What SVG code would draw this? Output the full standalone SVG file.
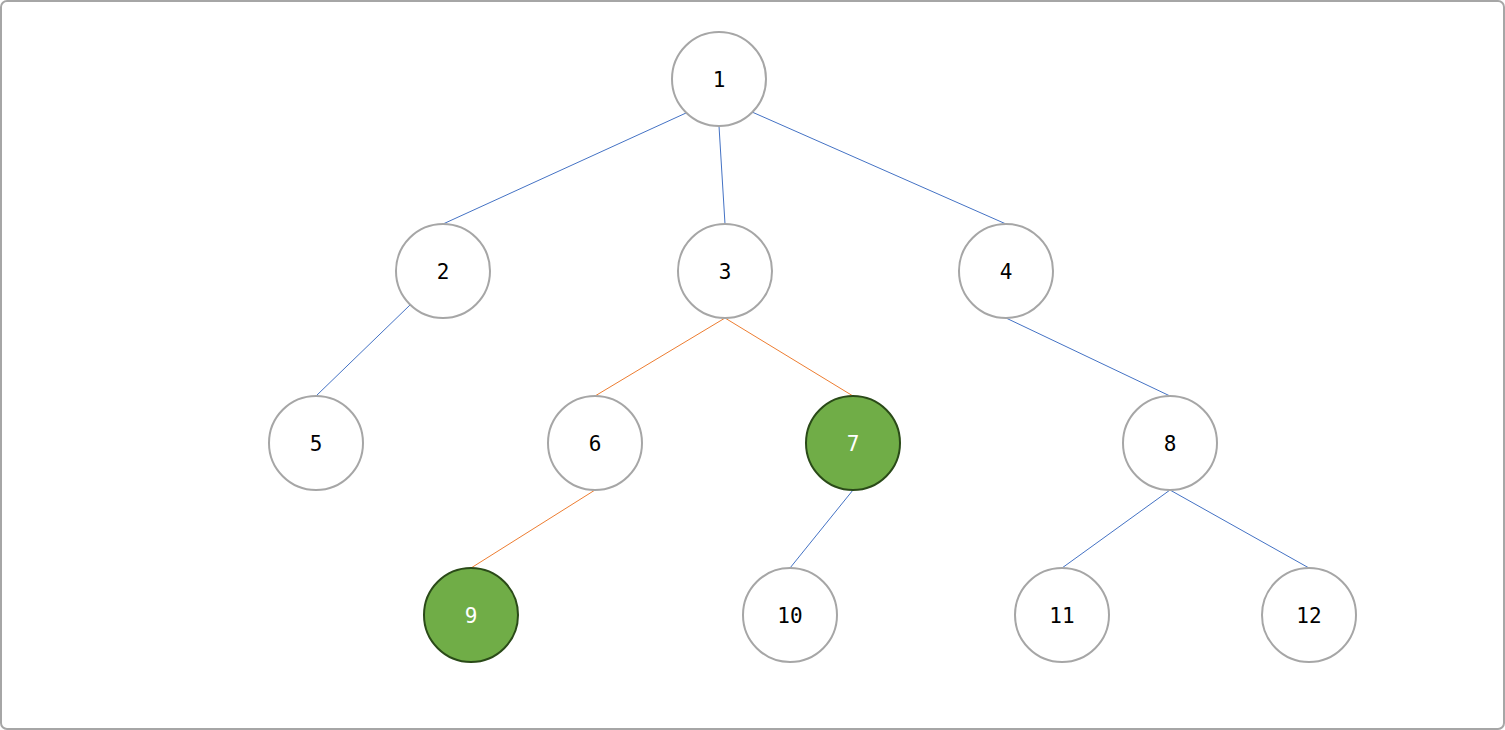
<svg xmlns="http://www.w3.org/2000/svg" width="1505" height="730" viewBox="0 0 1505 730">
<style>
.n{fill:#ffffff;stroke:#a6a6a6;stroke-width:2}
.g{fill:#70ad47;stroke:#2a4a18;stroke-width:2}
.t{font-family:"DejaVu Sans Mono","Liberation Mono",monospace;font-size:21px;text-anchor:middle;dominant-baseline:central;fill:#000}
.tw{fill:#ffffff}
.b{stroke:#4472c4;stroke-width:1}
.o{stroke:#ed7d31;stroke-width:1}
</style>
<rect x="1" y="1" width="1503" height="728" rx="6" fill="#ffffff" stroke="#a6a6a6" stroke-width="2"/>
<g id="connectors" fill="none">
<line class="b" x1="686" y1="113" x2="443" y2="224"/>
<line class="b" x1="719" y1="126" x2="725" y2="224"/>
<line class="b" x1="752" y1="112" x2="1006" y2="224"/>
<line class="b" x1="410" y1="305" x2="316" y2="396"/>
<line class="o" x1="725" y1="318" x2="595" y2="396"/>
<line class="o" x1="725" y1="318" x2="853" y2="396"/>
<line class="b" x1="1006" y1="318" x2="1170" y2="396"/>
<line class="o" x1="595" y1="490" x2="471" y2="568"/>
<line class="b" x1="853" y1="490" x2="790" y2="568"/>
<line class="b" x1="1170" y1="490" x2="1062" y2="568"/>
<line class="b" x1="1170" y1="490" x2="1309" y2="568"/>
</g>
<g id="node1"><circle class="n" cx="719" cy="79" r="47"/><text class="t" x="719" y="80">1</text></g>
<g id="node2"><circle class="n" cx="443" cy="271" r="47"/><text class="t" x="443" y="272">2</text></g>
<g id="node3"><circle class="n" cx="725" cy="271" r="47"/><text class="t" x="725" y="272">3</text></g>
<g id="node4"><circle class="n" cx="1006" cy="271" r="47"/><text class="t" x="1006" y="272">4</text></g>
<g id="node5"><circle class="n" cx="316" cy="443" r="47"/><text class="t" x="316" y="444">5</text></g>
<g id="node6"><circle class="n" cx="595" cy="443" r="47"/><text class="t" x="595" y="444">6</text></g>
<g id="node7"><circle class="g" cx="853" cy="443" r="47"/><text class="t tw" x="853" y="444">7</text></g>
<g id="node8"><circle class="n" cx="1170" cy="443" r="47"/><text class="t" x="1170" y="444">8</text></g>
<g id="node9"><circle class="g" cx="471" cy="615" r="47"/><text class="t tw" x="471" y="616">9</text></g>
<g id="node10"><circle class="n" cx="790" cy="615" r="47"/><text class="t" x="790" y="616">10</text></g>
<g id="node11"><circle class="n" cx="1062" cy="615" r="47"/><text class="t" x="1062" y="616">11</text></g>
<g id="node12"><circle class="n" cx="1309" cy="615" r="47"/><text class="t" x="1309" y="616">12</text></g>
</svg>
